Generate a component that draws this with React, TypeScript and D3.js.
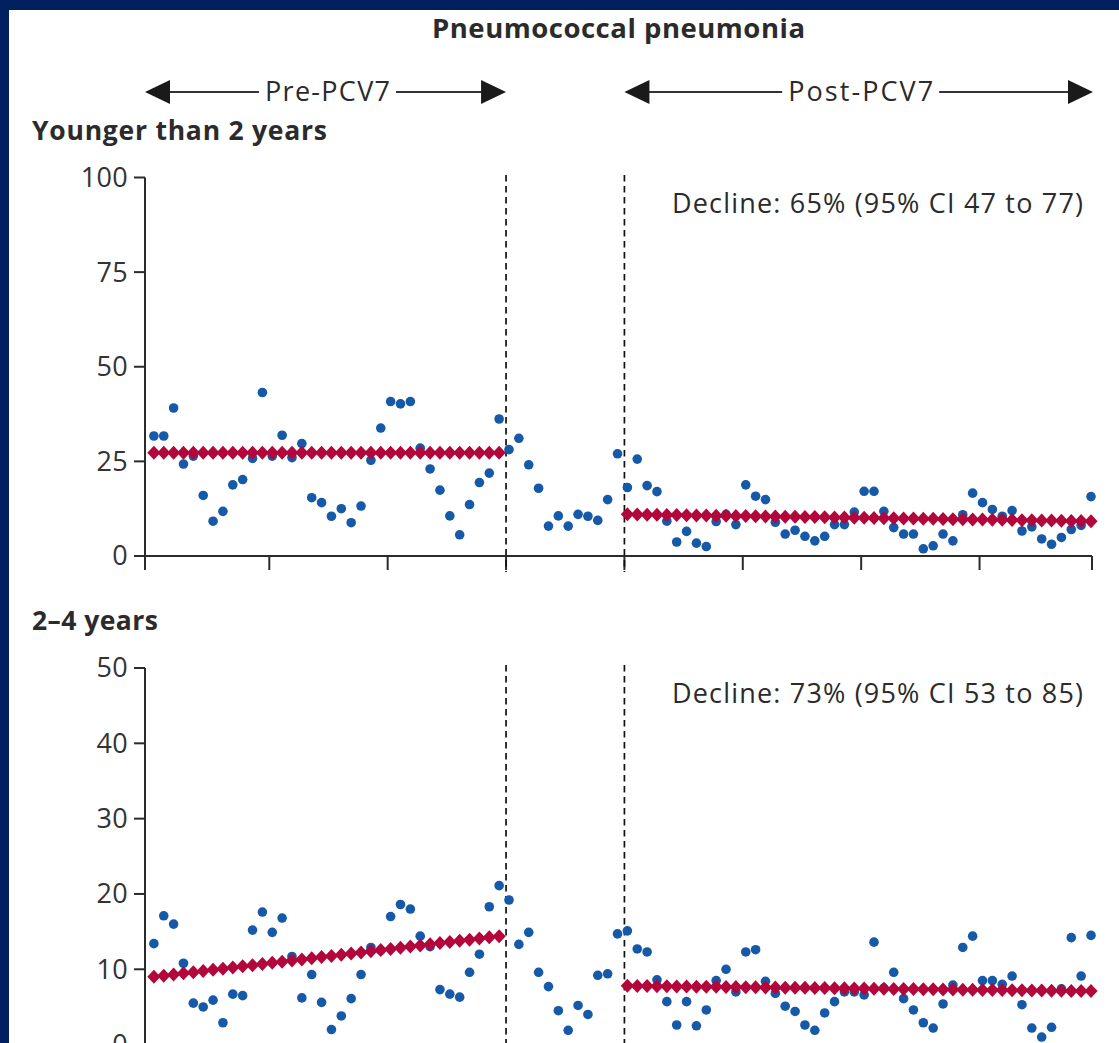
import * as d3 from 'd3';

// monthly incidence per 100 000 (96 months, 8 years)
const youngerThan2 = [
  31.7, 31.7, 39.1, 24.3, 26.4, 16.0, 9.2, 11.8, 18.8, 20.2, 25.8, 43.2,
  26.4, 31.9, 26.0, 29.7, 15.4, 14.1, 10.5, 12.5, 8.8, 13.2, 25.3, 33.8,
  40.8, 40.2, 40.8, 28.5, 23.0, 17.4, 10.6, 5.6, 13.6, 19.4, 21.9, 36.2,
  28.1, 31.1, 24.1, 17.9, 7.9, 10.6, 7.9, 11.0, 10.5, 9.4, 14.9, 27.0,
  18.1, 25.6, 18.6, 17.0, 9.2, 3.7, 6.5, 3.4, 2.5, 9.1, 11.0, 8.3,
  18.8, 15.8, 14.9, 8.9, 5.8, 6.8, 5.2, 4.0, 5.2, 8.3, 8.3, 11.6,
  17.1, 17.1, 11.8, 7.5, 5.8, 5.8, 1.9, 2.7, 5.8, 4.0, 10.9, 16.6,
  14.1, 12.3, 10.5, 12.0, 6.6, 7.7, 4.5, 3.1, 4.9, 7.0, 8.1, 15.7,
];
const twoToFour = [
  13.4, 17.1, 16.0, 10.8, 5.5, 5.0, 5.9, 2.9, 6.7, 6.5, 15.2, 17.6,
  14.9, 16.8, 11.7, 6.2, 9.3, 5.6, 2.0, 3.8, 6.1, 9.3, 12.9, 12.5,
  17.0, 18.6, 18.0, 14.4, 13.0, 7.3, 6.7, 6.3, 9.6, 12.0, 18.3, 21.1,
  19.2, 13.3, 14.9, 9.6, 7.7, 4.5, 1.9, 5.2, 4.0, 9.2, 9.4, 14.7,
  15.1, 12.7, 12.3, 8.6, 5.7, 2.6, 5.7, 2.5, 4.6, 8.5, 10.0, 7.0,
  12.3, 12.6, 8.4, 6.8, 5.1, 4.4, 2.6, 1.9, 4.2, 5.7, 7.0, 7.0,
  6.6, 13.6, 7.5, 9.6, 6.1, 4.6, 2.9, 2.2, 5.4, 7.9, 12.9, 14.4,
  8.5, 8.5, 8.0, 9.1, 5.3, 2.2, 1.0, 2.3, 7.4, 14.2, 9.1, 14.5,
];

// fitted trend segments: first/last month index and fitted value at each end
const trendYounger = [
  { from: 0, to: 35, start: 27.3, end: 27.3 },
  { from: 48, to: 95, start: 11.0, end: 9.2 },
];
const trendTwoFour = [
  { from: 0, to: 35, start: 9.0, end: 14.4 },
  { from: 48, to: 95, start: 7.8, end: 7.1 },
];

const yTicksYounger = [0, 25, 50, 75, 100];
const yTicksTwoFour = [0, 10, 20, 30, 40, 50];
const yearTicks = [12, 24, 36, 48, 60, 72, 84];
const preEnd = 36;   // PCV7 introduced
const postStart = 48; // post-PCV7 period

const W = 1119, H = 1043;
const font = '"Open Sans", "DejaVu Sans", sans-serif';
const ink = '#2b2b2b';
const blue = '#1559a8';
const red = '#b3063b';

const x = d3.scaleLinear().domain([-0.6, 95.4]).range([145, 1092]);
const monthX = (i: number) => x(i + 0.3);

const Panel = ({ values, trend, yScale, ticks, decline, title, titleLen, titleY, dashTop }: any) => {
  const [y0, y1] = yScale.range();
  const diamond = (cx: number, cy: number) =>
    `M${cx - 6.6},${cy}L${cx},${cy - 7}L${cx + 6.6},${cy}L${cx},${cy + 7}Z`;
  return (
    <g>
      <text x={32} y={titleY} fontFamily={font} fontWeight={700} fontSize={26.5}
        textLength={titleLen} lengthAdjust="spacing" fill={ink}>{title}</text>
      {/* y axis */}
      <line x1={x.range()[0]} x2={x.range()[0]} y1={y0} y2={y1} stroke={ink} strokeWidth={2} />
      {ticks.map((t: number) => (
        <g key={t}>
          <line x1={134} x2={145} y1={yScale(t)} y2={yScale(t)} stroke={ink} strokeWidth={2} />
          <text x={128} y={yScale(t)} dy="0.35em" textAnchor="end" fontFamily={font} fontSize={27}
            letterSpacing={0.3} fill="#333">{t}</text>
        </g>
      ))}
      {/* x axis */}
      <line x1={145} x2={1092} y1={y0} y2={y0} stroke={ink} strokeWidth={2} />
      {[...x.domain(), ...yearTicks].map((m: number) => (
        <line key={m} x1={x(m)} x2={x(m)} y1={y0} y2={y0 + 14} stroke={ink} strokeWidth={2} />
      ))}
      {/* period boundaries */}
      {[preEnd, postStart].map(m => (
        <line key={m} x1={x(m)} x2={x(m)} y1={dashTop} y2={y0 + 16} stroke="#111" strokeWidth={1.7} strokeDasharray="6.5 4.5" />
      ))}
      <text x={672} y={yScale(ticks[ticks.length - 1]) + 35} fontFamily={font} fontSize={27}
        textLength={411} lengthAdjust="spacing" fill={ink}>{decline}</text>
      {values.map((v: number, i: number) => (
        <circle key={i} cx={monthX(i)} cy={yScale(v)} r={4.8} fill={blue} />
      ))}
      {trend.map((s: any, k: number) =>
        d3.range(s.from, s.to + 1).map(i => {
          const v = d3.interpolateNumber(s.start, s.end)((i - s.from) / (s.to - s.from));
          return <path key={k + '-' + i} d={diamond(monthX(i), yScale(v))} fill={red} />;
        })
      )}
    </g>
  );
};

const Arrow = ({ from, to, label, labelLen, y }: any) => {
  const mid = (from + to) / 2 + 2;
  const half = labelLen / 2 + 6;
  return (
    <g>
      <line x1={from + 20} x2={mid - half} y1={y} y2={y} stroke="#333" strokeWidth={2} />
      <line x1={mid + half} x2={to - 20} y1={y} y2={y} stroke="#333" strokeWidth={2} />
      <path d={`M${from},${y}L${from + 25},${y - 12}L${from + 25},${y + 12}Z`} fill="#1a1a1a" />
      <path d={`M${to},${y}L${to - 25},${y - 12}L${to - 25},${y + 12}Z`} fill="#1a1a1a" />
      <text x={mid - labelLen / 2} y={y} dy="0.35em" fontFamily={font} fontSize={27}
        textLength={labelLen} lengthAdjust="spacing" fill={ink}>{label}</text>
    </g>
  );
};

export default function App() {
  const yYounger = d3.scaleLinear().domain([0, 100]).range([556, 177.5]);
  const yTwoFour = d3.scaleLinear().domain([0, 50]).range([1044.6, 668]);
  return (
    <svg width={W} height={H} style={{ position: 'absolute', left: 0, top: 0 }}>
      <rect x={0} y={0} width={W} height={H} fill="#002060" />
      <rect x={9} y={10} width={W - 9} height={H - 10} fill="#ffffff" />
      <text x={432} y={38} fontFamily={font} fontWeight={700} fontSize={27.5}
        textLength={373} lengthAdjust="spacing" fill={ink}>Pneumococcal pneumonia</text>
      <Arrow from={145} to={x(preEnd)} label="Pre-PCV7" labelLen={125} y={92} />
      <Arrow from={x(postStart)} to={1093} label="Post-PCV7" labelLen={145} y={92} />
      <Panel values={youngerThan2} trend={trendYounger} yScale={yYounger} ticks={yTicksYounger}
        decline="Decline: 65% (95% CI 47 to 77)" title="Younger than 2 years" titleLen={295}
        titleY={140} dashTop={175} />
      <Panel values={twoToFour} trend={trendTwoFour} yScale={yTwoFour} ticks={yTicksTwoFour}
        decline="Decline: 73% (95% CI 53 to 85)" title="2–4 years" titleLen={126}
        titleY={630} dashTop={665} />
    </svg>
  );
}
